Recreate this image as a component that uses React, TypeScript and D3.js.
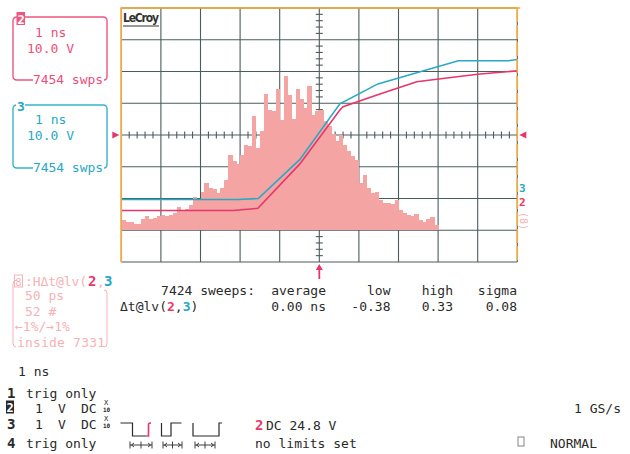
import React from "react";
import * as d3 from "d3";

// histogram of dt@lv(2,3), 0.1 ns bins starting at -5 ns (counts, 52 per div)
const histStart = -5;
const histBin = 0.1;
const histCounts = [
  16, 13, 13, 10, 11, 18, 23, 18, 20, 23,
  25, 23, 25, 29, 38, 31, 34, 41, 54, 52,
  62, 77, 69, 67, 61, 70, 82, 124, 113, 108,
  123, 139, 138, 187, 134, 162, 223, 197, 195, 231,
  180, 252, 221, 183, 231, 215, 200, 236, 188, 195,
  197, 179, 170, 157, 146, 156, 139, 129, 121, 115,
  77, 90, 69, 61, 62, 49, 44, 44, 43, 49,
  33, 28, 25, 23, 26, 16, 13, 18, 21, 8,
];

// channel traces (ns, V)
const ch3Time = [-5.0, -2.05, -1.54, -0.49, 0.52, 1.48, 2.46, 3.51, 4.77, 5.0];
const ch3Volt = [-20.3, -20.3, -20.0, -7.7, 9.8, 16.1, 19.6, 23.4, 23.4, 23.8];
const ch2Time = [-5.0, -2.18, -1.55, -0.49, 0.52, 0.6, 1.53, 2.46, 3.63, 4.06, 5.0];
const ch2Volt = [-23.8, -23.8, -23.1, -9.1, 7.9, 8.9, 12.9, 16.8, 18.6, 19.2, 20.2];

const measureHeads = ["average", "low", "high", "sigma"];
const measureVals = ["0.00 ns", "-0.38", "0.33", "0.08"];
const measureEnds = [326, 390.5, 453, 517];

const PINK = "#e8356a";
const CYAN = "#2aa8c3";
const ORANGE = "#f5a93a";
const GRID = "#4d5b5c";
const HIST = "#f5a4a4";
const FAINT = "#f5b2b7";
const INK = "#2a2a2a";
const MONO = "'DejaVu Sans Mono', monospace";

function App() {
  const x = d3.scaleLinear().domain([-5, 5]).range([121.3, 517.3]);
  const y = d3.scaleLinear().domain([-40, 40]).range([262, 8]);
  const divH = y(0) - y(10);
  const hScale = d3.scaleLinear().domain([0, 52]).range([0, divH]);
  const base = y(-30);

  const line = d3
    .line<[number, number]>()
    .x((d) => x(d[0]))
    .y((d) => y(d[1]));
  const ch3 = line(ch3Time.map((t, i) => [t, ch3Volt[i]]));
  const ch2 = line(ch2Time.map((t, i) => [t, ch2Volt[i]]));

  const vLines = d3.range(-5, 6);
  const hLines = d3.range(-40, 41, 10);
  const xMinor = d3.range(-5, 5.001, 0.2).filter((t) => Math.abs(t - Math.round(t)) > 0.01);
  const yMinor = d3.range(-40, 40.01, 2).filter((v) => v % 10 !== 0);

  const txt = { fontFamily: MONO, fontSize: 13 } as React.CSSProperties;

  return (
    <svg width={630} height={454} style={{ position: "absolute", left: 0, top: 0, background: "#fff" }}>
      {/* grid */}
      <g stroke={GRID} strokeWidth={1.1}>
        {vLines.map((t) => (
          <line key={"v" + t} x1={x(t)} x2={x(t)} y1={y(40)} y2={y(-40)} />
        ))}
        {hLines.map((v) => (
          <line key={"h" + v} x1={x(-5)} x2={x(5)} y1={y(v)} y2={y(v)} />
        ))}
        {xMinor.map((t) => (
          <line key={"xm" + t} x1={x(t)} x2={x(t)} y1={y(0) - 3.5} y2={y(0) + 3.5} />
        ))}
        {yMinor.map((v) => (
          <line key={"ym" + v} x1={x(0) - 3.5} x2={x(0) + 3.5} y1={y(v)} y2={y(v)} />
        ))}
      </g>

      {/* histogram */}
      <g fill={HIST} shapeRendering="crispEdges">
        {histCounts.map((c, i) => {
          const x0 = x(histStart + i * histBin);
          const x1 = x(histStart + (i + 1) * histBin);
          return <rect key={i} x={x0} width={x1 - x0 + 0.4} y={base - hScale(c)} height={hScale(c)} />;
        })}
      </g>

      {/* traces */}
      <path d={ch2 || ""} fill="none" stroke={PINK} strokeWidth={1.6} />
      <path d={ch3 || ""} fill="none" stroke={CYAN} strokeWidth={1.6} />

      {/* frame */}
      <line x1={x(-5) - 1} x2={x(5) + 3} y1={y(40)} y2={y(40)} stroke={ORANGE} strokeWidth={1.6} />
      <line x1={x(-5)} x2={x(-5)} y1={y(40)} y2={y(-40)} stroke={ORANGE} strokeWidth={1.6} />
      <line x1={x(5)} x2={x(5)} y1={y(40)} y2={y(-40)} stroke={ORANGE} strokeWidth={1.6} strokeDasharray="14 3" />

      {/* trigger markers */}
      <path d={`M${x(-5) - 9},${y(0) - 3.5} L${x(-5) - 2},${y(0)} L${x(-5) - 9},${y(0) + 3.5} Z`} fill={PINK} />
      <path d={`M${x(5) + 9},${y(0) - 3.5} L${x(5) + 2},${y(0)} L${x(5) + 9},${y(0) + 3.5} Z`} fill={PINK} />
      <path d={`M${x(0) - 3.5},${y(-40) + 8} L${x(0)},${y(-40) + 2} L${x(0) + 3.5},${y(-40) + 8} Z`} fill={PINK} />
      <line x1={x(0)} x2={x(0)} y1={y(-40) + 6} y2={y(-40) + 17} stroke={PINK} strokeWidth={1.8} />

      {/* right labels */}
      <text x={519} y={192} fill={CYAN} style={{ ...txt, fontSize: 11, fontWeight: "bold" }}>3</text>
      <text x={519} y={205.5} fill={PINK} style={{ ...txt, fontSize: 11, fontWeight: "bold" }}>2</text>
      <text x={0} y={0} fill={FAINT} style={{ ...txt, fontSize: 10 }} transform="translate(520,212) rotate(90)">(8)</text>

      {/* LeCroy */}
      <text x={123} y={22} fill="#333" style={{ fontFamily: "'DejaVu Sans Condensed', sans-serif", fontSize: 12, fontWeight: "bold" }} textLength={36}>LeCroy</text>
      <line x1={123} x2={159} y1={26} y2={26} stroke="#333" strokeWidth={1} />

      {/* channel 2 box */}
      <path d="M33,80 H17 Q13,80 13,76 V21 Q13,17 17,17 H103 Q107,17 107,21 V76 Q107,80 104,80" fill="none" stroke="#f0557f" strokeWidth={1.4} />
      <rect x={16.5} y={12} width={8.5} height={13} fill="#f0557f" />
      <text x={17.5} y={23.5} fill="#fff" style={{ ...txt, fontSize: 12, fontWeight: "bold" }}>2</text>
      <text x={35} y={37} fill="#ee4d7b" style={txt}>1 ns</text>
      <text x={27} y={53} fill="#ee4d7b" style={txt}>10.0 V</text>
      <text x={33} y={84} fill="#ee4d7b" style={txt} textLength={70}>7454 swps</text>

      {/* channel 3 box */}
      <path d="M33,168 H17 Q13,168 13,164 V109 Q13,105 17,105 H103 Q107,105 107,109 V164 Q107,168 104,168" fill="none" stroke="#38b3cc" strokeWidth={1.4} />
      <rect x={16} y={99} width={9} height={13} fill="#fff" />
      <text x={17} y={110.5} fill={CYAN} style={{ ...txt, fontWeight: "bold" }}>3</text>
      <text x={35} y={124} fill={CYAN} style={txt}>1 ns</text>
      <text x={27} y={140} fill={CYAN} style={txt}>10.0 V</text>
      <text x={33} y={172} fill={CYAN} style={txt} textLength={70}>7454 swps</text>

      {/* histogram parameter box */}
      <path d="M17,280 Q13,280 13,284 V343 Q13,347 16,347" fill="none" stroke={FAINT} strokeWidth={1} />
      <path d="M104,290 Q107,290 107,293 V344 Q107,347 104,347" fill="none" stroke={FAINT} strokeWidth={1} />
      <rect x={14.5} y={275} width={8} height={12} fill="none" stroke={FAINT} strokeWidth={1} />
      <text x={15.5} y={285.5} fill={FAINT} style={{ ...txt, fontSize: 10 }}>8</text>
      <text x={25} y={286} fill={FAINT} style={txt} textLength={62}>:HΔt@lv(</text>
      <text x={88} y={286} fill={PINK} style={{ ...txt, fontWeight: "bold", fontSize: 14 }}>2</text>
      <text x={97} y={286} fill={FAINT} style={txt}>,</text>
      <text x={104} y={286} fill={CYAN} style={{ ...txt, fontWeight: "bold", fontSize: 14 }}>3</text>
      <text x={25} y={300} fill={FAINT} style={txt}>50 ps</text>
      <text x={25} y={315.5} fill={FAINT} style={txt}>52 #</text>
      <text x={15} y={331} fill={FAINT} style={txt}>←1%/→1%</text>
      <text x={17} y={346.5} fill={FAINT} style={txt} textLength={88}>inside 7331</text>

      {/* measurement table */}
      <text x={255} y={295} fill={INK} style={txt} textAnchor="end">7424 sweeps:</text>
      {measureHeads.map((h, i) => (
        <text key={h} x={measureEnds[i]} y={295} fill={INK} style={txt} textAnchor="end">{h}</text>
      ))}
      <text x={120} y={311} fill={INK} style={txt}>
        Δt@lv(<tspan fill={PINK} fontWeight="bold">2</tspan>,<tspan fill={CYAN} fontWeight="bold">3</tspan>)
      </text>
      {measureVals.map((v, i) => (
        <text key={v} x={measureEnds[i]} y={311} fill={INK} style={txt} textAnchor="end">{v}</text>
      ))}

      {/* bottom status area */}
      <text x={18} y={376} fill={INK} style={txt}>1 ns</text>
      <text x={7} y={398} fill={INK} style={{ ...txt, fontWeight: "bold", fontSize: 14 }}>1</text>
      <text x={26} y={398} fill={INK} style={txt}>trig only</text>

      <rect x={6} y={400.5} width={8} height={13} fill={INK} />
      <text x={6.5} y={412} fill="#fff" style={{ ...txt, fontWeight: "bold", fontSize: 12 }}>2</text>
      <text x={35} y={413} fill={INK} style={txt}>1</text>
      <text x={58} y={413} fill={INK} style={txt}>V</text>
      <text x={81} y={413} fill={INK} style={txt}>DC</text>
      <text x={104} y={405} fill={INK} style={{ ...txt, fontSize: 7 }}>X</text>
      <text x={103} y={412} fill={INK} style={{ ...txt, fontSize: 6, fontWeight: "bold" }}>10</text>

      <text x={7} y={429} fill={INK} style={{ ...txt, fontWeight: "bold", fontSize: 14 }}>3</text>
      <text x={35} y={429} fill={INK} style={txt}>1</text>
      <text x={58} y={429} fill={INK} style={txt}>V</text>
      <text x={81} y={429} fill={INK} style={txt}>DC</text>
      <text x={104} y={421} fill={INK} style={{ ...txt, fontSize: 7 }}>X</text>
      <text x={103} y={428} fill={INK} style={{ ...txt, fontSize: 6, fontWeight: "bold" }}>10</text>

      <text x={7} y={448} fill={INK} style={{ ...txt, fontWeight: "bold", fontSize: 14 }}>4</text>
      <text x={26} y={448} fill={INK} style={txt}>trig only</text>

      {/* trigger pattern icons */}
      <g fill="none" stroke={INK} strokeWidth={1.2}>
        <path d="M120.5,423 H132.5 V436 H146.5" />
        <path d="M161.5,423 V436 H171 V423 H181.5" />
        <path d="M193,423 V436 H219 V423 H222" />
      </g>
      <path d="M146.5,436 H148.5 V424 Q149,423 151,423" fill="none" stroke={PINK} strokeWidth={1.6} />
      <g stroke={INK} strokeWidth={0.9} fill="none">
        {[[130, 152], [163, 182], [195, 215]].map(([a, b]) => {
          const m = (a + b) / 2;
          return (
            <g key={a}>
              <line x1={a} x2={b} y1={445} y2={445} />
              <line x1={a} x2={a} y1={441.5} y2={448.5} />
              <line x1={m} x2={m} y1={441.5} y2={448.5} />
              <line x1={b} x2={b} y1={441.5} y2={448.5} />
              <path d={`M${a + 4},443 L${a + 1.5},445 L${a + 4},447`} />
              <path d={`M${b - 4},443 L${b - 1.5},445 L${b - 4},447`} />
            </g>
          );
        })}
      </g>

      <text x={255} y={430} fill={PINK} style={{ ...txt, fontWeight: "bold", fontSize: 14 }}>2</text>
      <text x={266} y={430} fill={INK} style={txt}>DC 24.8 V</text>
      <text x={255} y={448} fill={INK} style={txt}>no limits set</text>

      <text x={621} y={413} fill={INK} style={txt} textAnchor="end">1 GS/s</text>
      <rect x={518} y={437} width={6} height={9} fill="none" stroke="#777" strokeWidth={0.9} />
      <text x={550} y={448} fill={INK} style={txt}>NORMAL</text>
    </svg>
  );
}

export default App;
